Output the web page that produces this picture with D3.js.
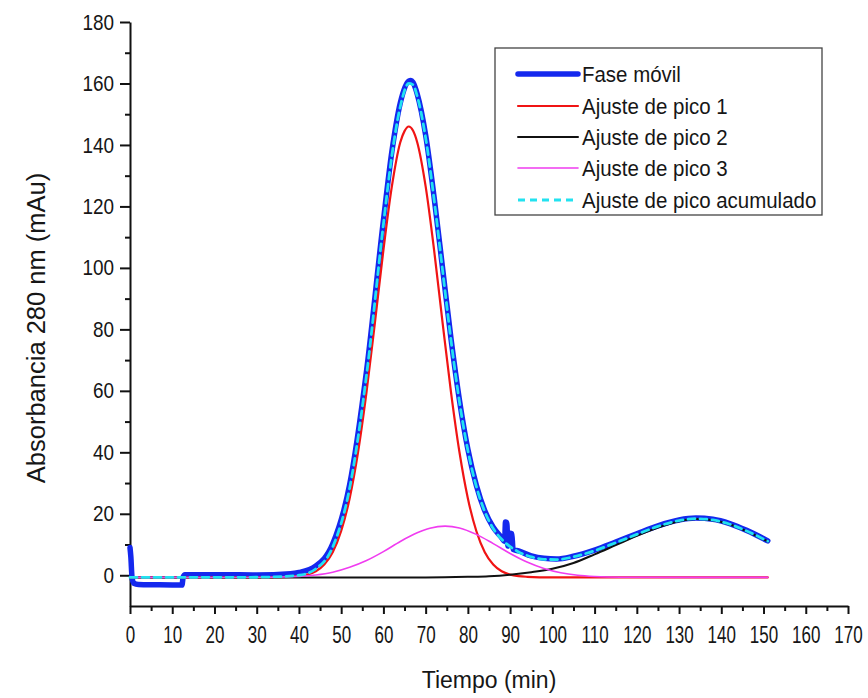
<!DOCTYPE html>
<html><head><meta charset="utf-8">
<script src="https://cdn.jsdelivr.net/npm/d3@7"></script>
<style>
body{margin:0;background:#fff}
text{font-family:"Liberation Sans",Arial,sans-serif;fill:#161616}
</style></head>
<body><svg id="c" width="868" height="698"></svg>
<script>
// ---- data (time in min, absorbance in mAu) ----
const xTicks = d3.range(0, 171, 10);
const xMinor = d3.range(5, 170, 10);
const yTicks = d3.range(0, 181, 20);
const yMinor = d3.range(10, 180, 20);

const faseMovil = [[0,9],[0.2,6],[0.5,-1],[0.9,-2.6],[2,-3.0],[6,-3.1],[12.3,-3.2],[12.6,-0.5],[13,0.2],[20,0.2],[30,0.1],[38,0.5],[40,0.9],[44,3.0],[48,10.2],[52,29.4],[56,66.4],[60,115.4],[62,137.8],[64,153.7],[66,160.8],[66.5,161],[67,160.4],[68,156.6],[70,143.2],[72,123],[74,100],[76,77],[78,57],[80,41],[82,29.3],[84,21],[86,15.6],[88,12.2],[88.7,11],[88.9,17.3],[89.2,17.2],[89.5,9.5],[90,13.7],[90.4,13.5],[90.7,8.4],[92,7.9],[95,6.3],[98,5.5],[101,5.3],[105,6.2],[110,8.2],[115,10.8],[120,13.5],[125,16.1],[130,18.0],[134,18.6],[138,18.2],[142,16.8],[146,14.6],[151,11.2]];

const pico1 = [[0,-0.7],[30,-0.7],[38,-0.5],[40,-0.3],[42,0.2],[44,1.3],[46,3.5],[48,7.5],[50,14.4],[52,25],[54,40.1],[56,59.6],[58,82.3],[60,105.8],[62,126.5],[64,140.9],[65,144.5],[66,146],[67,144.7],[68,140.9],[70,126.5],[72,105.8],[74,82.3],[76,59.6],[78,40.1],[80,25],[82,14.4],[84,7.5],[86,3.5],[88,1.3],[90,0.2],[92,-0.3],[94,-0.5],[100,-0.7],[151,-0.7]];

const pico2 = [[0,-0.7],[70,-0.7],[80,-0.5],[85,-0.3],[90,0.2],[95,1.0],[100,2.1],[105,4.0],[110,6.8],[115,9.8],[120,12.8],[125,15.5],[130,17.6],[134,18.3],[138,17.9],[142,16.5],[146,14.3],[151,11.0]];

const pico3 = [[0,-0.7],[30,-0.65],[40,-0.35],[44,0.1],[48,1.0],[52,2.6],[56,4.8],[60,7.7],[64,11.0],[68,13.8],[71,15.3],[74.6,16.0],[78,15.4],[82,13.3],[86,10.3],[90,7.1],[94,4.3],[98,2.2],[102,0.8],[106,0.0],[110,-0.4],[116,-0.63],[151,-0.7]];

const acumulado = [[0,-0.7],[30,-0.65],[40,0.0],[44,2.1],[48,9.2],[52,28.3],[56,65.1],[60,114.2],[62,136.5],[64,152.5],[66,160.0],[67,159.6],[68,155.9],[70,142.3],[72,122.3],[74,99.3],[76,76.5],[78,56.5],[80,40.6],[82,28.9],[84,20.7],[86,15.2],[88,11.7],[90,9.3],[92,7.6],[95,6.0],[98,5.2],[101,5.1],[105,6.0],[110,8.0],[115,10.6],[120,13.3],[125,15.9],[130,17.8],[134,18.4],[138,18.0],[142,16.6],[146,14.4],[151,11.1]];

const legendLabels = ["Fase móvil","Ajuste de pico 1","Ajuste de pico 2","Ajuste de pico 3","Ajuste de pico acumulado"];
const xTitle = "Tiempo (min)";
const yTitle = "Absorbancia 280 nm (mAu)";

// ---- drawing ----
const svg = d3.select("#c");
const x = d3.scaleLinear().domain([0,170]).range([130,848]);
const y = d3.scaleLinear().domain([-10,180]).range([606,22]);

function squeeze(sel, f){
  sel.each(function(){
    const L = this.getComputedTextLength();
    this.setAttribute("textLength", (L*f).toFixed(1));
    this.setAttribute("lengthAdjust","spacingAndGlyphs");
  });
}

// axes
const gx = svg.append("g").attr("transform","translate(0,606)");
gx.call(d3.axisBottom(x).tickValues(xTicks).tickSize(8).tickSizeOuter(0).tickPadding(13).tickFormat(d3.format("d")));
const gxm = svg.append("g").attr("transform","translate(0,606)");
gxm.call(d3.axisBottom(x).tickValues(xMinor).tickSize(5).tickSizeOuter(0).tickFormat(""));
gxm.select(".domain").remove();

const gy = svg.append("g").attr("transform","translate(130,0)");
gy.call(d3.axisLeft(y).tickValues(yTicks).tickSize(10).tickSizeOuter(0).tickPadding(6).tickFormat(d3.format("d")));
const gym = svg.append("g").attr("transform","translate(130,0)");
gym.call(d3.axisLeft(y).tickValues(yMinor).tickSize(5).tickSizeOuter(0).tickFormat(""));
gym.select(".domain").remove();

svg.selectAll(".domain").attr("stroke","#111").attr("stroke-width",2);
svg.selectAll(".tick line").attr("stroke","#111").attr("stroke-width",2);

// narrow tick labels: horizontal scale about the anchor point
gx.selectAll(".tick text").each(function(){
  const t = d3.select(this);
  const yy = +t.attr("y");
  t.attr("y",0).attr("transform",`translate(0,${yy}) scale(0.74,1)`);
}).attr("font-size",23).attr("font-family",'"Liberation Sans",Arial,sans-serif').attr("fill","#161616");
gy.selectAll(".tick text").each(function(){
  const t = d3.select(this);
  const xx = +t.attr("x");
  t.attr("x",0).attr("transform",`translate(${xx},0) scale(0.86,1)`);
}).attr("font-size",22).attr("font-family",'"Liberation Sans",Arial,sans-serif').attr("fill","#161616");

// lines
const line = d3.line().x(d=>x(d[0])).y(d=>y(d[1])).curve(d3.curveMonotoneX);
const series = [
  {data: faseMovil, color:"#1428ee", w:5.5, dash:null},
  {data: pico1, color:"#f01414", w:2.2, dash:null},
  {data: pico2, color:"#111111", w:2, dash:null},
  {data: pico3, color:"#f03cf0", w:1.6, dash:null},
  {data: acumulado, color:"#22e2f0", w:2.8, dash:"7,5"}
];
svg.append("g").selectAll("path").data(series).join("path")
  .attr("d", d=>line(d.data))
  .attr("fill","none")
  .attr("stroke", d=>d.color)
  .attr("stroke-width", d=>d.w)
  .attr("stroke-linejoin","round")
  .attr("stroke-linecap","round")
  .attr("stroke-dasharray", d=>d.dash);

// legend
const lg = svg.append("g");
lg.append("rect").attr("x",495).attr("y",48).attr("width",327).attr("height",167)
  .attr("fill","#fff").attr("stroke","#444").attr("stroke-width",1.3);
const rowY = [74,106,137,168,200];
const items = lg.selectAll("g.item").data(series).join("g").attr("class","item")
  .attr("transform",(d,i)=>`translate(0,${rowY[i]})`);
items.append("line").attr("x1",518).attr("x2",578).attr("y1",0).attr("y2",0)
  .attr("stroke",d=>d.color).attr("stroke-width",d=>d.w)
  .attr("stroke-linecap",d=>d.dash?"butt":"round").attr("stroke-dasharray",d=>d.dash);
const lt = items.append("text").attr("x",582).attr("y",8).attr("font-size",22)
  .text((d,i)=>legendLabels[i]);
squeeze(lt, 0.93);

// titles
const xt = svg.append("text").attr("x",489).attr("y",688).attr("text-anchor","middle")
  .attr("font-size",23).text(xTitle);
squeeze(xt, 1.0);
const yt = svg.append("text").attr("transform","translate(45,328) rotate(-90)")
  .attr("text-anchor","middle").attr("font-size",25).text(yTitle);
squeeze(yt, 1.02);
</script></body></html>
